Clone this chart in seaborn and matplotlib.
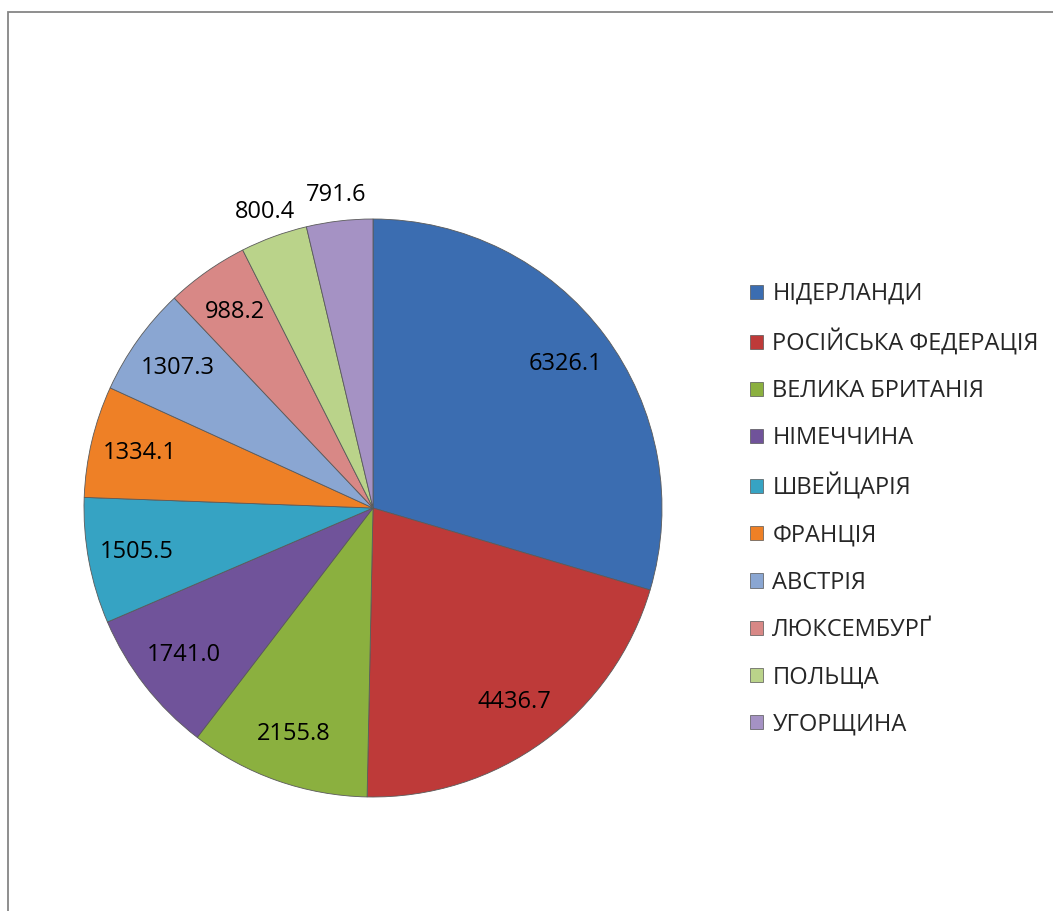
import matplotlib
matplotlib.use("Agg")
import matplotlib.pyplot as plt
import matplotlib.patches as mpatches
import numpy as np
import seaborn as sns

# data
countries = ['НІДЕРЛАНДИ', 'РОСІЙСЬКА ФЕДЕРАЦІЯ', 'ВЕЛИКА БРИТАНІЯ', 'НІМЕЧЧИНА',
             'ШВЕЙЦАРІЯ', 'ФРАНЦІЯ', 'АВСТРІЯ', 'ЛЮКСЕМБУРҐ', 'ПОЛЬЩА', 'УГОРЩИНА']
values = [6326.1, 4436.7, 2155.8, 1741.0, 1505.5, 1334.1, 1307.3, 988.2, 800.4, 791.6]
value_labels = ['6326.1', '4436.7', '2155.8', '1741.0', '1505.5',
                '1334.1', '1307.3', '988.2', '800.4', '791.6']

colors = ['#3B6DB1', '#BE3A39', '#8BB03F', '#70539A', '#36A3C3',
          '#EE8026', '#8AA6D2', '#D88886', '#BAD38A', '#A592C4']

sns.set_theme(style='white')
plt.rcParams['font.family'] = ['Open Sans', 'DejaVu Sans']

fig = plt.figure(figsize=(10.53, 9.11), dpi=100)
fig.patch.set_facecolor('white')

# outer chart frame (runs off right and bottom edges)
frame = mpatches.Rectangle((8 / 1053, -0.05), 1.2, (911 - 12) / 911 + 0.05,
                           transform=fig.transFigure, fill=False,
                           edgecolor='#868686', linewidth=1.3)
fig.patches.append(frame)

ax = fig.add_axes([84 / 1053, 114 / 911, 578 / 1053, 578 / 911])
wedges, _ = ax.pie(values, colors=colors, startangle=90, counterclock=False,
                   radius=1.0,
                   wedgeprops=dict(edgecolor='#5a5a5a', linewidth=0.6))
ax.set_xlim(-1, 1)
ax.set_ylim(-1, 1)
ax.set_aspect('equal')
ax.axis('off')

total = sum(values)
for w, v, lab in zip(wedges, values, value_labels):
    mid = np.deg2rad((w.theta1 + w.theta2) / 2)
    r = 1.09 if v / total < 0.04 else 0.83
    ax.text(r * np.cos(mid), r * np.sin(mid), lab, ha='center', va='center',
            fontsize=17, color='black', clip_on=False)

handles = [mpatches.Patch(facecolor=c, edgecolor='#555555', linewidth=0.5) for c in colors]
fig.legend(handles, countries, loc='upper left', bbox_to_anchor=(750 / 1053, 1 - 282 / 911),
           frameon=False, fontsize=17, handlelength=0.55, handleheight=0.55,
           handletextpad=0.4, labelspacing=0.98, borderpad=0, borderaxespad=0)

fig.savefig('out.png', dpi=100, facecolor='white')
